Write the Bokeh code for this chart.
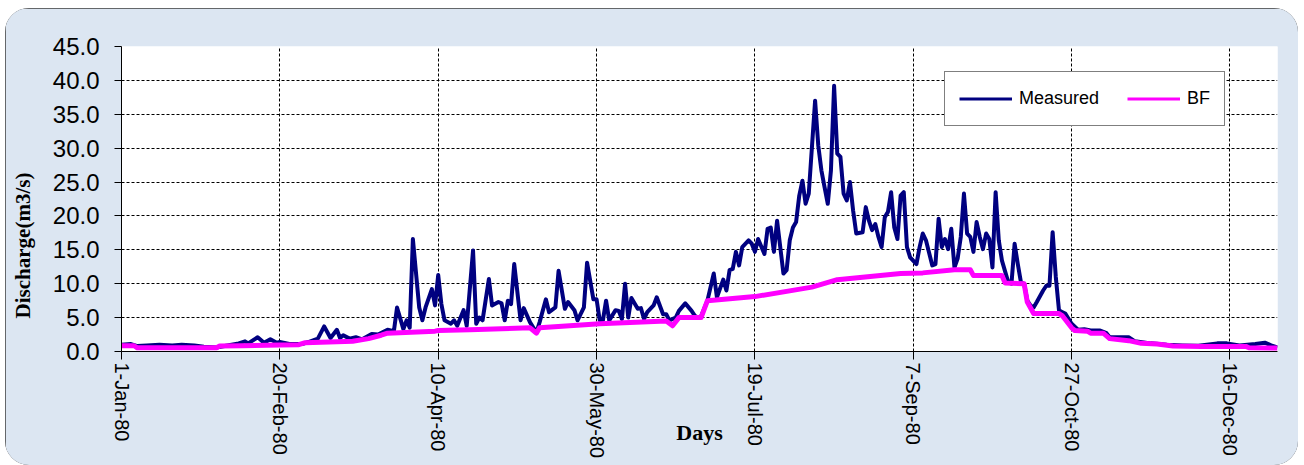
import math
from bokeh.plotting import figure
from bokeh.models import FixedTicker, NumeralTickFormatter, Legend, LegendItem, Label, Range1d
from bokeh.embed import file_html
from bokeh.resources import INLINE

# ---------------- data ----------------
tick_days = [0, 50, 100, 150, 200, 250, 300, 350]
tick_labels = ["1-Jan-80", "20-Feb-80", "10-Apr-80", "30-May-80",
               "19-Jul-80", "7-Sep-80", "27-Oct-80", "16-Dec-80"]
y_ticks = [0, 5, 10, 15, 20, 25, 30, 35, 40, 45]

# day of year (0 = 1-Jan-80) and measured discharge (m3/s)
measured_day = [0, 3, 5, 8, 12, 16, 19, 23, 26, 30, 33, 37, 39, 40, 43, 45, 47, 49, 50, 53,
                57, 59, 62, 64, 66, 68, 69, 70, 72, 74, 76, 79, 81, 84, 86, 87, 89, 90, 91, 92,
                94, 95, 96, 98, 99, 100, 101, 102, 104, 105, 106, 108, 109, 111, 112, 113, 114, 116, 117, 119,
                120, 121, 122, 123, 124, 126, 127, 129, 131, 132, 134, 135, 137, 138, 140, 141, 143, 144, 146, 147,
                149, 150, 151, 152, 153, 154, 156, 157, 158, 159, 160, 161, 163, 164, 165, 166, 168, 169, 171, 172,
                173, 175, 176, 178, 180, 181, 182, 183, 185, 187, 188, 190, 191, 192, 193, 194, 195, 196, 198, 199,
                200, 201, 203, 204, 205, 206, 207, 209, 210, 211, 212, 213, 214, 215, 216, 217, 219, 220, 221, 222,
                223, 224, 225, 226, 227, 228, 229, 230, 231, 232, 234, 235, 236, 237, 238, 239, 240, 241, 242, 243,
                244, 245, 246, 247, 248, 249, 251, 252, 253, 254, 256, 257, 258, 259, 260, 261, 262, 263, 264, 265,
                266, 267, 268, 269, 270, 271, 272, 273, 274, 275, 276, 277, 278, 280, 281, 282, 283, 284, 285, 286,
                287, 288, 289, 291, 292, 293, 294, 295, 296, 297, 298, 300, 302, 304, 306, 309, 311, 312, 318, 320,
                325, 330, 335, 340, 346, 349, 353, 358, 361, 363, 365]
measured_q = [1.0, 1.1, 0.8, 0.9, 1.0, 0.9, 1.0, 0.9, 0.7, 0.6, 0.85, 1.2, 1.5, 1.2, 2.1, 1.3, 1.8, 1.3, 1.4, 1.1,
              1.1, 1.4, 1.9, 3.7, 2.0, 3.2, 2.0, 2.4, 1.9, 2.1, 1.8, 2.6, 2.5, 3.2, 3.0, 6.5, 3.3, 4.6, 3.5, 16.6,
              6.5, 4.6, 6.5, 9.2, 6.8, 11.3, 7.0, 4.6, 4.1, 4.6, 3.8, 6.1, 3.8, 14.9, 4.1, 5.0, 4.6, 10.7, 6.8, 7.3,
              7.1, 4.6, 7.5, 7.0, 12.9, 4.6, 6.4, 4.3, 2.8, 4.3, 7.7, 5.8, 6.5, 11.9, 6.3, 7.3, 6.1, 4.6, 6.5, 13.1,
              7.7, 7.7, 4.6, 4.6, 7.5, 4.6, 6.1, 6.0, 4.8, 10.0, 5.0, 7.9, 6.3, 6.4, 4.8, 5.8, 6.8, 8.0, 5.5, 5.5,
              4.6, 5.0, 6.0, 7.1, 6.0, 5.3, 5.0, 5.2, 7.5, 11.5, 8.0, 10.6, 9.0, 12.0, 12.2, 14.7, 12.7, 15.4, 16.4, 15.9,
              14.7, 16.6, 14.4, 18.1, 18.3, 14.7, 19.3, 11.5, 12.0, 16.4, 18.3, 19.1, 23.0, 25.2, 21.8, 23.3, 37.0, 30.4, 26.7, 24.2,
              21.8, 26.7, 39.2, 29.2, 28.7, 23.3, 22.3, 25.0, 20.8, 17.4, 17.6, 21.3, 19.3, 17.9, 18.8, 16.9, 15.4, 19.8, 20.6, 23.5,
              18.3, 16.6, 23.0, 23.5, 15.4, 13.9, 12.9, 15.4, 17.4, 16.4, 12.7, 12.9, 19.6, 15.4, 16.6, 15.1, 18.1, 12.4, 13.7, 16.9,
              23.3, 17.4, 16.9, 14.7, 19.1, 16.9, 15.1, 17.4, 16.6, 12.4, 23.5, 16.4, 13.4, 10.2, 10.0, 15.9, 12.9, 10.2, 10.0, 7.5,
              6.8, 6.5, 7.3, 9.0, 9.7, 9.7, 17.6, 11.0, 6.1, 5.8, 5.6, 4.1, 3.2, 3.3, 3.1, 3.1, 2.7, 2.1, 2.1, 1.5,
              1.2, 1.0, 0.9, 0.85, 1.2, 1.2, 0.9, 1.1, 1.3, 0.9, 0.6]

# baseflow (BF)
bf_day = [0, 4, 5, 30, 31, 38, 50, 56, 58, 73, 78, 82, 84, 99, 100, 110, 120, 129, 131, 132,
          151, 172, 174, 176, 183, 185, 200, 218, 226, 246, 253, 263, 268, 269, 278, 279, 285, 286, 288, 296,
          297, 300, 301, 305, 306, 310, 312, 318, 322, 327, 332, 341, 355, 356, 365]
bf_q = [0.85, 0.85, 0.55, 0.55, 0.8, 0.85, 0.95, 1.0, 1.3, 1.5, 1.9, 2.4, 2.7, 3.0, 3.1, 3.2, 3.35, 3.5, 2.7, 3.5,
        4.1, 4.5, 3.8, 5.0, 5.0, 7.5, 8.1, 9.5, 10.6, 11.5, 11.6, 12.05, 12.05, 11.2, 11.2, 10.1, 10.0, 7.3, 5.6, 5.6,
        5.3, 3.5, 3.1, 3.0, 2.7, 2.7, 1.9, 1.6, 1.2, 1.1, 0.8, 0.75, 0.75, 0.55, 0.5]

# ---------------- figure ----------------
p = figure(width=1293, height=457, output_backend="svg", toolbar_location=None, title=None,
           x_range=Range1d(0, 365), y_range=Range1d(0, 45),
           min_border_left=116, min_border_right=21, min_border_top=38, min_border_bottom=114)

p.border_fill_color = "#dce6f2"
p.background_fill_color = "white"
p.outline_line_color = None
p.styles = {"margin-left": "5px", "margin-top": "8px",
            "border-radius": "24px", "overflow": "hidden",
            "outline": "2px solid #3c3c3c", "outline-offset": "-2px"}

p.line(measured_day, measured_q, line_color="#000080", line_width=4, line_join="round")
p.line(bf_day, bf_q, line_color="#ff00ff", line_width=5, line_join="round")

# axes
xa = p.xaxis[0]
xa.ticker = FixedTicker(ticks=tick_days)
xa.major_label_overrides = {d: l for d, l in zip(tick_days, tick_labels)}
xa.major_label_orientation = "vertical"
xa.major_label_text_font = "Liberation Sans"
xa.major_label_text_font_size = "20px"
xa.major_label_text_color = "black"
xa.major_label_standoff = 3
xa.major_tick_out = 8
xa.major_tick_in = 0
xa.minor_tick_line_color = None
xa.axis_line_color = "black"
xa.major_tick_line_color = "black"
xa.axis_label = "Days"
xa.axis_label_text_font = "Liberation Serif"
xa.axis_label_text_font_style = "bold"
xa.axis_label_text_font_size = "22px"
xa.axis_label_text_color = "black"
xa.axis_label_text_align = "left"
xa.axis_label_standoff = -41

ya = p.yaxis[0]
ya.ticker = FixedTicker(ticks=y_ticks)
ya.formatter = NumeralTickFormatter(format="0.0")
ya.major_label_text_font = "Liberation Sans"
ya.major_label_text_font_size = "24px"
ya.major_label_text_color = "black"
ya.major_label_standoff = 15
ya.major_tick_out = 7
ya.major_tick_in = 0
ya.minor_tick_line_color = None
ya.axis_line_color = "black"
ya.major_tick_line_color = "black"

for g in (p.xgrid[0], p.ygrid[0]):
    g.grid_line_color = "black"
    g.grid_line_dash = "3 2"
    g.grid_line_width = 1

# y title: placed in a side panel (not clipped to the frame), positioned relative to it
p.add_layout(Label(x=-3, y=106, x_units="screen", y_units="screen", text="Discharge(m3/s)",
                   angle=math.pi / 2, text_align="center", text_baseline="middle",
                   text_font="Liberation Serif", text_font_style="bold", text_font_size="21px",
                   text_color="black"), "left")

# legend (thin sample lines, drawn from renderers whose points lie outside the view)
leg_m = p.line([-20, -10], [-5, -5], line_color="#000080", line_width=3)
leg_b = p.line([-20, -10], [-5, -5], line_color="#ff00ff", line_width=3)
legend = Legend(items=[LegendItem(label="Measured", renderers=[leg_m]),
                       LegendItem(label="BF", renderers=[leg_b])],
                orientation="horizontal", location=(823, 225),
                padding=14, spacing=28, label_standoff=7, margin=0,
                glyph_width=53, glyph_height=25, label_height=25,
                label_text_font="Liberation Sans", label_text_font_size="18px",
                label_text_color="black",
                border_line_color="black", border_line_width=1,
                background_fill_color="white", background_fill_alpha=1)
p.add_layout(legend)

open("out.html", "w").write(file_html(p, INLINE))
